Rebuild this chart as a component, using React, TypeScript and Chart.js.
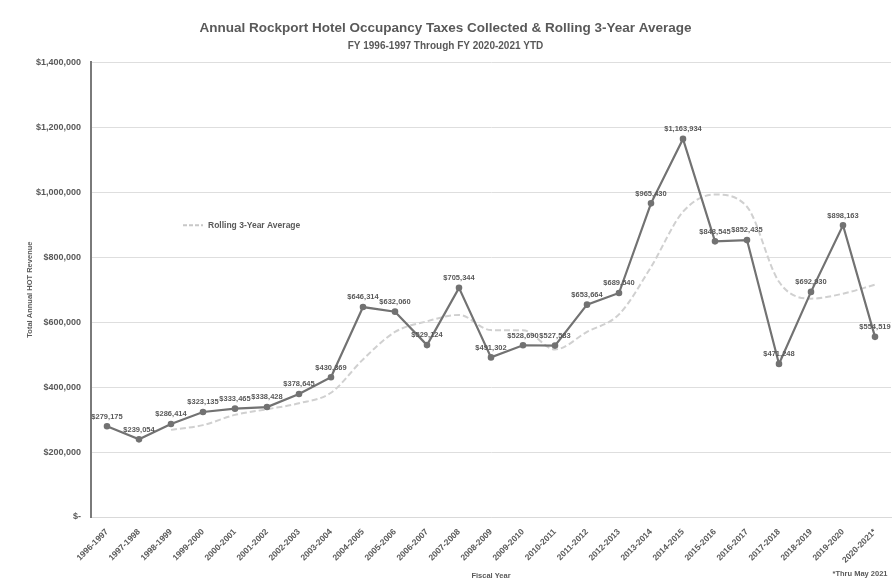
import React, { useEffect, useRef } from "react";
import { Chart, registerables } from "chart.js";

Chart.register(...registerables);

const categories = [
  "1996-1997", "1997-1998", "1998-1999", "1999-2000", "2000-2001", "2001-2002",
  "2002-2003", "2003-2004", "2004-2005", "2005-2006", "2006-2007", "2007-2008",
  "2008-2009", "2009-2010", "2010-2011", "2011-2012", "2012-2013", "2013-2014",
  "2014-2015", "2015-2016", "2016-2017", "2017-2018", "2018-2019", "2019-2020",
  "2020-2021*",
];

const annualTaxes = [
  279175, 239054, 286414, 323135, 333465, 338428, 378645, 430369, 646314,
  632060, 529124, 705344, 491302, 528690, 527583, 653664, 689540, 965430,
  1163934, 848545, 852435, 471248, 692930, 898163, 554519,
];

const rollingAverage = [
  null, null, 268214, 282868, 314338, 331676, 350179, 382481, 485109, 569581,
  602499, 622176, 575257, 575112, 515858, 569979, 623596, 769545, 939645,
  992636, 954971, 724076, 672204, 687447, 715204,
];

const yTicks = [0, 200000, 400000, 600000, 800000, 1000000, 1200000, 1400000];

const titleText = "Annual Rockport Hotel Occupancy Taxes Collected & Rolling 3-Year Average";
const subtitleText = "FY 1996-1997 Through FY 2020-2021 YTD";
const legendText = "Rolling 3-Year Average";
const yTitle = "Total Annual HOT Revenue";
const xTitle = "Fiscal Year";
const footnote = "*Thru May 2021";

const FONT = "'Liberation Sans', Arial, sans-serif";
const TEXT = "#595959";

const money = (v: number) =>
  v === 0 ? "$-" : "$" + Math.round(v).toLocaleString("en-US");

const extrasPlugin = {
  id: "extras",
  afterDatasetsDraw(chart: any) {
    const { ctx, chartArea } = chart;
    const meta = chart.getDatasetMeta(0);
    ctx.save();
    ctx.font = `bold 7.5px ${FONT}`;
    ctx.fillStyle = TEXT;
    ctx.textAlign = "center";
    ctx.textBaseline = "bottom";
    meta.data.forEach((pt: any, i: number) => {
      ctx.fillText(money(annualTaxes[i]), pt.x, pt.y - 6);
    });
    // legend inside plot
    const lx = chartArea.left + 92;
    const ly = chartArea.top + 163;
    ctx.strokeStyle = "#c8c8c8";
    ctx.lineWidth = 2;
    ctx.setLineDash([4, 2]);
    ctx.beginPath();
    ctx.moveTo(lx, ly);
    ctx.lineTo(lx + 20, ly);
    ctx.stroke();
    ctx.setLineDash([]);
    ctx.font = `bold 8.5px ${FONT}`;
    ctx.textAlign = "left";
    ctx.textBaseline = "middle";
    ctx.fillText(legendText, lx + 25, ly);
    // footnote
    ctx.textAlign = "center";
    ctx.textBaseline = "middle";
    ctx.font = `bold 7.5px ${FONT}`;
    ctx.fillText(footnote, 860, 574);
    ctx.restore();
  },
};

export default function App() {
  const ref = useRef<HTMLCanvasElement>(null);
  useEffect(() => {
    document.body.style.margin = "0";
    const chart = new Chart(ref.current!, {
      type: "line",
      data: {
        labels: categories,
        datasets: [
          {
            label: "Annual HOT Revenue",
            data: annualTaxes,
            borderColor: "#727272",
            backgroundColor: "#727272",
            borderWidth: 2.2,
            pointRadius: 2.2,
            pointHoverRadius: 2.2,
            tension: 0,
          },
          {
            label: legendText,
            data: rollingAverage,
            borderColor: "#d0d0d0",
            backgroundColor: "#d0d0d0",
            borderWidth: 2,
            borderDash: [6, 3],
            pointRadius: 0,
            cubicInterpolationMode: "monotone",
          },
        ],
      },
      options: {
        responsive: false,
        animation: false,
        layout: { padding: { left: 0, right: 5, top: 0, bottom: 2 } },
        plugins: {
          legend: { display: false },
          tooltip: { enabled: false },
          title: {
            display: true,
            text: titleText,
            color: TEXT,
            font: { family: FONT, size: 13.5, weight: "bold" },
            padding: { top: 20, bottom: 4 },
          },
          subtitle: {
            display: true,
            text: subtitleText,
            color: TEXT,
            font: { family: FONT, size: 10, weight: "bold" },
            padding: { top: 0, bottom: 10 },
          },
        },
        scales: {
          x: {
            offset: true,
            grid: { display: false },
            border: { color: "#d9d9d9" },
            ticks: {
              color: TEXT,
              font: { family: FONT, size: 8.5, weight: "bold" },
              maxRotation: 45,
              minRotation: 45,
              autoSkip: false,
              padding: 2,
            },
            title: {
              display: true,
              text: xTitle,
              color: TEXT,
              font: { family: FONT, size: 7.5, weight: "bold" },
              padding: { top: 0, bottom: 2 },
            },
            afterFit(scale: any) {
              scale.height = 65;
            },
          },
          y: {
            min: 0,
            max: 1400000,
            afterBuildTicks(scale: any) {
              scale.ticks = yTicks.map((v) => ({ value: v }));
            },
            grid: { color: "#dedede", drawTicks: false },
            border: { color: "#7a7a7a", width: 2 },
            ticks: {
              color: TEXT,
              font: { family: FONT, size: 9, weight: "bold" },
              padding: 10,
              callback: (v: any) => money(Number(v)),
            },
            title: {
              display: true,
              text: yTitle,
              color: TEXT,
              font: { family: FONT, size: 7.5, weight: "bold" },
              padding: { top: 25, bottom: 0 },
            },
            afterFit(scale: any) {
              scale.width = 91;
            },
          },
        },
      },
      plugins: [extrasPlugin],
    });
    return () => chart.destroy();
  }, []);
  return (
    <canvas
      ref={ref}
      width={896}
      height={584}
      style={{ display: "block", width: 896, height: 584 }}
    />
  );
}
